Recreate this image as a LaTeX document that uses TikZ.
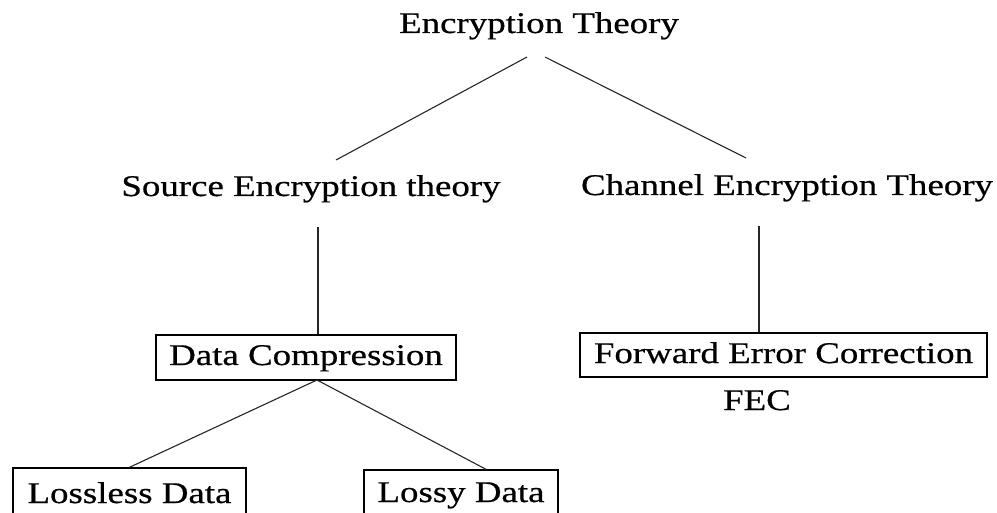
\documentclass[tikz,border=0pt]{standalone}
\usepackage{fontspec}
\setmainfont{Liberation Serif}[FakeStretch=1.23, FakeBold=0.6]
\usetikzlibrary{calc}
\begin{document}
\begin{tikzpicture}[x=1pt,y=-1pt,
  every node/.style={font=\fontsize{30}{35}\selectfont, inner sep=0pt},
  label/.style={anchor=base},
  boxed/.style={draw, line width=1.4pt},
  link/.style={line width=1.1pt, draw=black!85}]
  \useasboundingbox (0,0) rectangle (997,513);

  % headings of the tree
  \node[label] (root) at (539,33) {Encryption Theory};
  \node[label] (src) at (311,196) {Source Encryption theory};
  \node[label] (chan) at (787,195) {Channel Encryption Theory};

  % boxed leaves
  \node[boxed, minimum width=300pt, minimum height=45pt, text height=20pt, text depth=5pt]
    (dc) at (306,357.5) {Data Compression};
  \node[boxed, minimum width=407pt, minimum height=44pt, text height=21pt, text depth=5pt]
    (fec) at (783.5,355) {Forward Error Correction};
  \node[label] (feclab) at (757,410) {FEC};
  \node[boxed, minimum width=233pt, minimum height=52pt, text height=22pt, text depth=4pt]
    (lossless) at (129.5,494) {Lossless Data};
  \node[boxed, minimum width=194pt, minimum height=52pt, text height=18pt, text depth=6pt]
    (lossy) at (461,496) {Lossy Data};

  % connector end points
  \coordinate (rootL) at (527,57);
  \coordinate (rootR) at (545,57);
  \coordinate (srcTop) at (336,160);
  \coordinate (chanTop) at (746,158);
  \coordinate (srcFoot) at (318,227);
  \coordinate (chanFoot) at (759,226);
  \coordinate (dcFork) at (317,380);

  % connectors
  \draw[link] (rootL) -- (srcTop);
  \draw[link] (rootR) -- (chanTop);
  \draw[link] (srcFoot) -- (srcFoot |- dc.north);
  \draw[link] (chanFoot) -- (chanFoot |- fec.north);
  \draw[link] (dcFork) -- (lossless.north);
  \draw[link] (dcFork) -- ($(lossy.north)+(25,0)$);
\end{tikzpicture}
\end{document}
